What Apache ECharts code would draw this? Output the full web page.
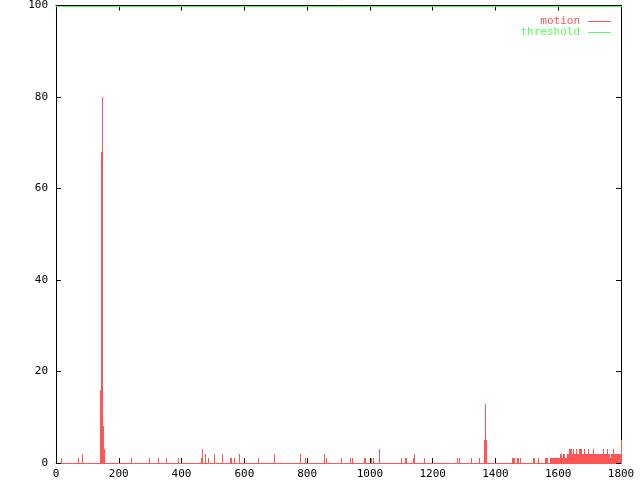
<!DOCTYPE html>
<html><head><meta charset="utf-8">
<script src="https://cdn.jsdelivr.net/npm/echarts@6/dist/echarts.min.js"></script>
<style>html,body{margin:0;padding:0;background:#fff}#c{width:640px;height:480px}</style>
</head><body><div id="c"></div>
<script>
const xTickValues = [0, 200, 400, 600, 800, 1000, 1200, 1400, 1600, 1800];
const yTickValues = [0, 20, 40, 60, 80, 100];
const seriesNames = ['motion', 'threshold'];

const motionFrames = [
  17, 70, 83, 140, 143, 146, 150, 153, 240, 297, 325, 352, 390,
  462, 465, 475, 484, 503, 529, 554, 558, 567, 583, 644, 694, 777, 793, 854, 860, 908,
  937, 943, 981, 984, 1003, 1010, 1029, 1099, 1112, 1115, 1137, 1141, 1172,
  1278, 1284, 1322, 1348, 1364, 1367, 1370,
  1453, 1456, 1459, 1469, 1472, 1478, 1520, 1523, 1536, 1558, 1561, 1564,
  1574, 1577, 1580, 1584, 1587, 1590, 1593, 1596, 1599, 1603,
  1606, 1609, 1612, 1615, 1619, 1622, 1625, 1628, 1631, 1634,
  1638, 1641, 1644, 1647, 1650, 1654, 1657, 1660, 1663, 1666,
  1669, 1673, 1676, 1679, 1682, 1685, 1689, 1692, 1695, 1698,
  1701, 1704, 1708, 1711, 1714, 1717, 1720, 1724, 1727, 1730,
  1733, 1736, 1739, 1743, 1746, 1749, 1752, 1755, 1758, 1761,
  1765, 1768, 1771, 1774, 1777, 1780, 1784, 1787, 1790, 1793,
  1796, 1800
];
const motionValues = [
  1, 1, 2, 16, 68, 80, 8, 3, 1, 1, 1, 1, 1,
  1, 3, 2, 1, 2, 2, 1, 1, 1, 2, 1, 2, 2, 1, 2, 1, 1,
  1, 1, 1, 1, 1, 1, 3, 1, 1, 1, 1, 2, 1,
  1, 1, 1, 1, 5, 13, 5,
  1, 1, 1, 1, 1, 1, 1, 1, 1, 1, 1, 1,
  1, 1, 1, 1, 1, 1, 1, 1, 1, 1,
  2, 2, 1, 2, 2, 1, 1, 2, 2, 3,
  3, 3, 2, 3, 2, 2, 3, 2, 2, 3,
  3, 3, 2, 2, 3, 2, 2, 2, 3, 2,
  2, 2, 2, 3, 2, 2, 2, 2, 2, 2,
  2, 2, 2, 3, 2, 2, 2, 3, 2, 2,
  1, 2, 2, 3, 2, 2, 2, 2, 2, 2,
  2, 5
];
const thresholdFrom = [0];
const thresholdTo = [1800];
const thresholdValues = [100];

const RED = '#ff5555';
const GREEN = '#55ff55';
const FONT = 'DejaVu Sans Mono';

const motionData = motionFrames.map((f, i) => [f, motionValues[i]]);
const thresholdData = thresholdFrom.map((f, i) => [f, thresholdTo[i], thresholdValues[i]]);

const chart = echarts.init(document.getElementById('c'), null, {renderer: 'canvas'});

const axisCommon = {
  type: 'value',
  splitLine: {show: false},
  axisTick: {show: true, inside: true, length: 5, lineStyle: {color: '#000', width: 1}},
  axisLine: {show: true, onZero: false, lineStyle: {color: '#000', width: 1}},
};
const plain = v => String(v);

function legendEntry(name, color, y) {
  return [
    {type: 'text', right: 60, top: y - 5, z: 100,
      style: {text: name, fill: color, font: '11px ' + FONT, textAlign: 'right'}},
    {type: 'rect', left: 588, top: y, z: 100,
      shape: {x: 0, y: 0, width: 23, height: 1}, style: {fill: color}}
  ];
}

chart.setOption({
  animation: false,
  backgroundColor: '#fff',
  grid: {left: 56, right: 19, top: 5, bottom: 17, containLabel: false},
  graphic: [].concat(legendEntry(seriesNames[0], RED, 21), legendEntry(seriesNames[1], GREEN, 32)),
  xAxis: [
    Object.assign({}, axisCommon, {
      position: 'bottom', min: 0, max: 1800, interval: 200,
      axisLine: {show: true, onZero: false, lineStyle: {color: RED, width: 1}},
      axisLabel: {fontFamily: FONT, fontSize: 11, color: '#000', margin: 6,
        formatter: plain, customValues: xTickValues},
    }),
    Object.assign({}, axisCommon, {
      position: 'top', min: 0, max: 1800, interval: 200,
      axisLabel: {show: false}
    })
  ],
  yAxis: [
    Object.assign({}, axisCommon, {
      position: 'left', min: 0, max: 100, interval: 20,
      axisLabel: {fontFamily: FONT, fontSize: 11, color: '#000', margin: 8,
        formatter: plain, customValues: yTickValues}
    }),
    Object.assign({}, axisCommon, {
      position: 'right', min: 0, max: 100, interval: 20,
      axisLabel: {show: false}
    })
  ],
  series: [
    {
      name: seriesNames[0], type: 'custom', xAxisIndex: 0, yAxisIndex: 0, clip: false, z: 10,
      itemStyle: {color: RED},
      encode: {x: 0, y: 1},
      data: motionData,
      renderItem: function (params, api) {
        const x = api.value(0), v = api.value(1);
        const top = api.coord([x, v]);
        const base = api.coord([x, 0]);
        const px = Math.round(base[0]);
        const y0 = Math.round(top[1]);
        const y1 = Math.round(base[1]);
        return {type: 'rect', shape: {x: px, y: y0, width: 1, height: y1 - y0},
          style: {fill: RED, stroke: null, lineWidth: 0}};
      }
    },
    {
      name: seriesNames[1], type: 'custom', xAxisIndex: 0, yAxisIndex: 0, clip: false, z: 10,
      itemStyle: {color: GREEN},
      encode: {x: [0, 1], y: 2},
      data: thresholdData,
      renderItem: function (params, api) {
        const a = api.coord([api.value(0), api.value(2)]);
        const b = api.coord([api.value(1), api.value(2)]);
        const x0 = Math.round(a[0]), x1 = Math.round(b[0]);
        const y = Math.round(a[1]);
        return {type: 'rect', shape: {x: x0, y: y, width: x1 - x0 + 1, height: 1},
          style: {fill: GREEN, stroke: null, lineWidth: 0}};
      }
    }
  ]
});
</script>
</body></html>
